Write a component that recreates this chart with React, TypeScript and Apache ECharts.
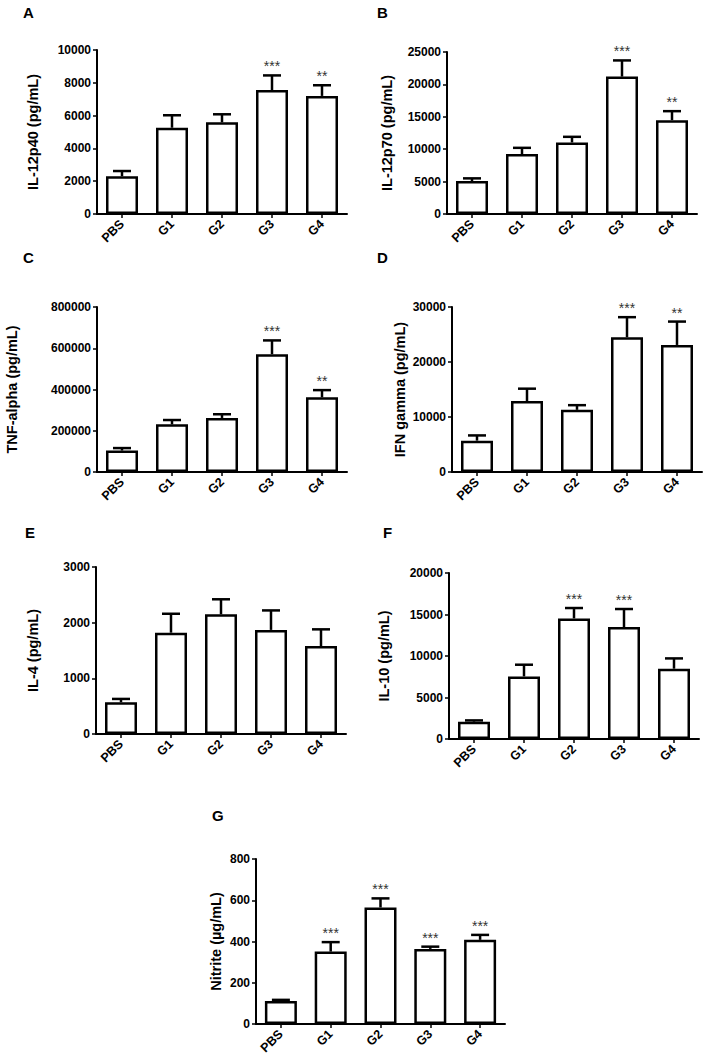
import React, { useEffect, useRef } from "react";
import * as echarts from "echarts";

const categories = ["PBS", "G1", "G2", "G3", "G4"];

// Panel A: IL-12p40
const il12p40Mean = [2300, 5260, 5590, 7560, 7200];
const il12p40Err = [320, 760, 490, 890, 650];
const il12p40Stars = ["", "", "", "***", "**"];
// Panel B: IL-12p70
const il12p70Mean = [5080, 9240, 11040, 21200, 14480];
const il12p70Err = [420, 970, 870, 2500, 1390];
const il12p70Stars = ["", "", "", "***", "**"];
// Panel C: TNF-alpha
const tnfMean = [104000, 231000, 262000, 571000, 362000];
const tnfErr = [12000, 21000, 18000, 67000, 35000];
const tnfStars = ["", "", "", "***", "**"];
// Panel D: IFN gamma
const ifnMean = [5700, 12900, 11300, 24500, 23100];
const ifnErr = [950, 2250, 850, 3650, 4250];
const ifnStars = ["", "", "", "***", "**"];
// Panel E: IL-4
const il4Mean = [570, 1820, 2150, 1870, 1580];
const il4Err = [60, 340, 270, 350, 300];
const il4Stars = ["", "", "", "", ""];
// Panel F: IL-10
const il10Mean = [2090, 7540, 14530, 13490, 8470];
const il10Err = [150, 1410, 1250, 2170, 1240];
const il10Stars = ["", "", "***", "***", ""];
// Panel G: Nitrite
const nitriteMean = [112, 351, 565, 364, 408];
const nitriteErr = [5, 46, 44, 11, 24];
const nitriteStars = ["", "***", "***", "***", "***"];

const FONT = "'Liberation Sans', Arial, Helvetica, sans-serif";

const panels = [
  { letter: "A", title: "IL-12p40 (pg/mL)", mean: il12p40Mean, err: il12p40Err, stars: il12p40Stars, max: 10000, interval: 2000,
    grid: { left: 97, top: 50, width: 250, height: 164 }, nameGap: 57, lx: 23, ly: 5 },
  { letter: "B", title: "IL-12p70 (pg/mL)", mean: il12p70Mean, err: il12p70Err, stars: il12p70Stars, max: 25000, interval: 5000,
    grid: { left: 447, top: 52, width: 250, height: 162 }, nameGap: 53, lx: 377, ly: 5 },
  { letter: "C", title: "TNF-alpha (pg/mL)", mean: tnfMean, err: tnfErr, stars: tnfStars, max: 800000, interval: 200000,
    grid: { left: 97, top: 307, width: 250, height: 165 }, nameGap: 78, lx: 23, ly: 250 },
  { letter: "D", title: "IFN gamma (pg/mL)", mean: ifnMean, err: ifnErr, stars: ifnStars, max: 30000, interval: 10000,
    grid: { left: 452, top: 307, width: 250, height: 165 }, nameGap: 45, lx: 377, ly: 250 },
  { letter: "E", title: "IL-4 (pg/mL)", mean: il4Mean, err: il4Err, stars: il4Stars, max: 3000, interval: 1000,
    grid: { left: 96, top: 567, width: 250, height: 167 }, nameGap: 56, lx: 25, ly: 525 },
  { letter: "F", title: "IL-10 (pg/mL)", mean: il10Mean, err: il10Err, stars: il10Stars, max: 20000, interval: 5000,
    grid: { left: 449, top: 573, width: 250, height: 166 }, nameGap: 58, lx: 383, ly: 525 },
  { letter: "G", title: "Nitrite (\u00b5g/mL)", mean: nitriteMean, err: nitriteErr, stars: nitriteStars, max: 800, interval: 200,
    grid: { left: 256, top: 859, width: 249, height: 165 }, nameGap: 33, lx: 212, ly: 808 },
];

export default function App() {
  const ref = useRef<HTMLDivElement>(null);

  useEffect(() => {
    if (!ref.current) return;
    const chart = echarts.init(ref.current, null, { renderer: "svg" });

    const grids: any[] = [];
    const xAxes: any[] = [];
    const yAxes: any[] = [];
    const series: any[] = [];
    const graphics: any[] = [];

    panels.forEach((p, i) => {
      grids.push({ ...p.grid, containLabel: false });
      xAxes.push({
        type: "category",
        gridIndex: i,
        data: categories,
        boundaryGap: true,
        axisLine: { lineStyle: { color: "#000", width: 2 } },
        axisTick: { show: true, alignWithLabel: true, length: 4, lineStyle: { color: "#000", width: 1.5 } },
        axisLabel: { rotate: 45, color: "#000", fontFamily: FONT, fontWeight: "bold", fontSize: 12.5, margin: 8 },
      });
      yAxes.push({
        type: "value",
        gridIndex: i,
        min: 0,
        max: p.max,
        interval: p.interval,
        name: p.title,
        nameLocation: "middle",
        nameRotate: 90,
        nameGap: p.nameGap,
        nameTextStyle: { color: "#000", fontFamily: FONT, fontWeight: "bold", fontSize: 14.5 },
        axisLine: { show: true, lineStyle: { color: "#000", width: 2 } },
        axisTick: { show: true, length: 4, lineStyle: { color: "#000", width: 1.5 } },
        axisLabel: {
          color: "#000", fontFamily: FONT, fontWeight: "bold", fontSize: 12, margin: 6,
          formatter: (v: number) => String(v),
        },
        splitLine: { show: false },
      });
      series.push({
        type: "bar",
        xAxisIndex: i,
        yAxisIndex: i,
        data: p.mean,
        barWidth: 32,
        itemStyle: { color: "#fff", borderColor: "#000", borderWidth: 2.5 },
        z: 2,
      });
      const mean = p.mean;
      const err = p.err;
      const stars = p.stars;
      series.push({
        type: "custom",
        xAxisIndex: i,
        yAxisIndex: i,
        clip: false,
        z: 3,
        data: mean.map((m, k) => [k, m, m + err[k]]),
        renderItem: (params: any, api: any) => {
          const idx = api.value(0);
          const p1 = api.coord([idx, api.value(1)]);
          const p2 = api.coord([idx, api.value(2)]);
          const children: any[] = [
            { type: "line", shape: { x1: p1[0], y1: p1[1], x2: p2[0], y2: p2[1] }, style: { stroke: "#000", lineWidth: 2.5 } },
            { type: "line", shape: { x1: p2[0] - 9, y1: p2[1], x2: p2[0] + 9, y2: p2[1] }, style: { stroke: "#000", lineWidth: 2.5 } },
          ];
          const s = stars[params.dataIndex];
          if (s) {
            children.push({
              type: "text",
              x: p2[0],
              y: p2[1] - 2,
              style: { text: s, fill: "#333", font: `14px ${FONT}`, align: "center", verticalAlign: "bottom" },
            });
          }
          return { type: "group", children };
        },
      });
      graphics.push({
        type: "text",
        left: p.lx,
        top: p.ly,
        style: { text: p.letter, fill: "#000", font: `bold 15px ${FONT}` },
      });
    });

    chart.setOption({
      animation: false,
      backgroundColor: "#fff",
      grid: grids,
      xAxis: xAxes,
      yAxis: yAxes,
      series,
      graphic: graphics,
    });

    return () => chart.dispose();
  }, []);

  return (
    <div
      ref={ref}
      style={{ position: "absolute", left: 0, top: 0, width: 708, height: 1061, background: "#fff" }}
    />
  );
}
